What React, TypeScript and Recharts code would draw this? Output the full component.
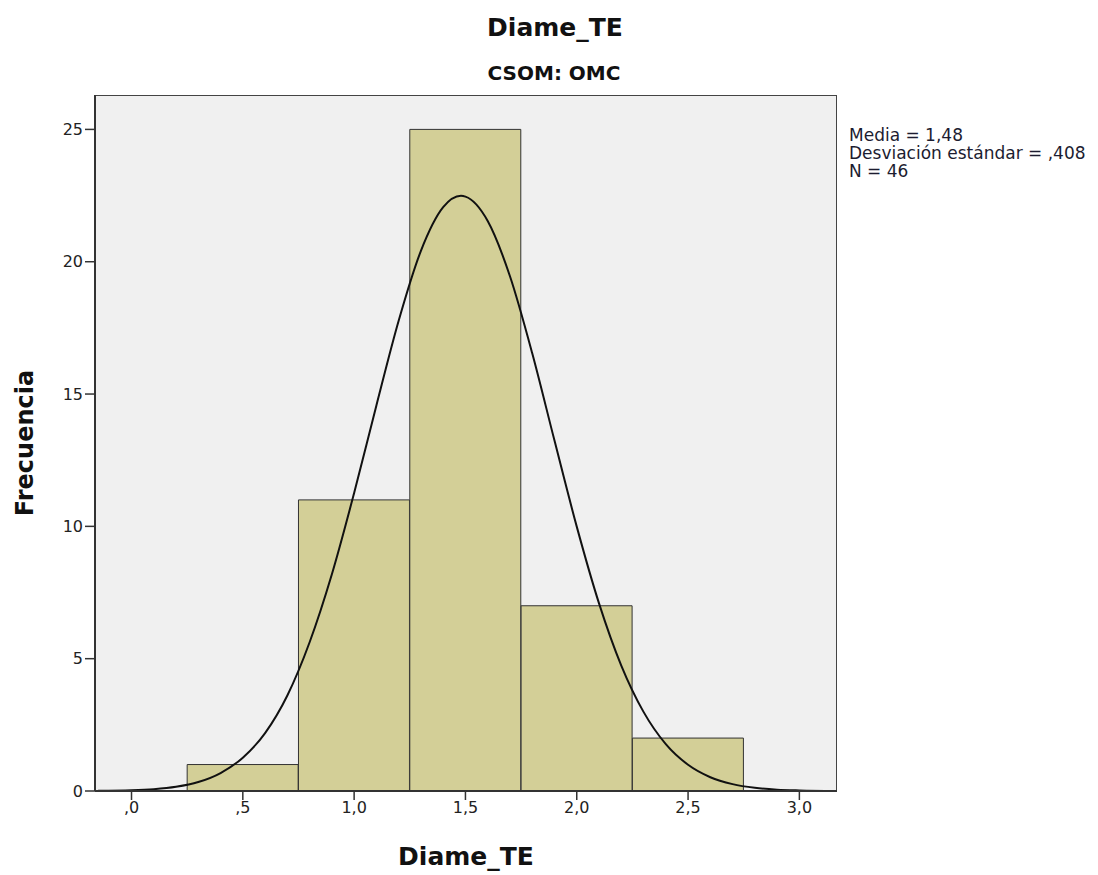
import React from "react";
import { ComposedChart, Bar, Line, XAxis, YAxis, CartesianGrid, ReferenceArea } from "recharts";

// histogram bins (centre, count)
const binCenters = [0.5, 1.0, 1.5, 2.0, 2.5];
const binCounts = [1, 11, 25, 7, 2];

// fitted normal curve
const curveX = [
  -0.15, 0.0, 0.1, 0.2, 0.3, 0.4, 0.5, 0.6, 0.7, 0.8, 0.9, 1.0, 1.1, 1.2, 1.3, 1.4, 1.48,
  1.5, 1.6, 1.7, 1.8, 1.9, 2.0, 2.1, 2.2, 2.3, 2.4, 2.5, 2.6, 2.7, 2.8, 2.9, 3.0, 3.17,
];
const curveY = [
  0.01, 0.03, 0.07, 0.16, 0.34, 0.68, 1.26, 2.19, 3.61, 5.62, 8.19, 11.26, 14.57, 17.77, 20.41, 22.06, 22.49,
  22.46, 21.54, 19.45, 16.54, 13.24, 9.99, 7.09, 4.74, 2.99, 1.77, 0.99, 0.52, 0.26, 0.12, 0.05, 0.02, 0.0,
];

const xTicks = [0, 0.5, 1.0, 1.5, 2.0, 2.5, 3.0];
const yTicks = [0, 5, 10, 15, 20, 25];

const stats = ["Media = 1,48", "Desviación estándar = ,408", "N = 46"];

const X_MIN = -0.164;
const X_MAX = 3.169;
const Y_MAX = 26.3;

const bins = binCenters.map((x, i) => ({ x, count: binCounts[i] }));
const curve = curveX.map((x, i) => ({ x, curve: curveY[i] }));

const fmt = (v: number) => {
  const s = v.toFixed(1).replace(".", ",");
  return s.startsWith("0") ? s.slice(1) : s;
};

const font = "'DejaVu Sans', sans-serif";
const tickStyle = { fontSize: 16, fill: "#222", fontFamily: font };

export default function App() {
  return (
    <div style={{ position: "absolute", left: 0, top: 0, width: 1098, height: 875, background: "#fff", fontFamily: font }}>
      <div style={{ position: "absolute", left: 6, width: 1098, top: 13, textAlign: "center", fontSize: 25, fontWeight: "bold", color: "#111" }}>
        Diame_TE
      </div>
      <div style={{ position: "absolute", left: 5, width: 1098, top: 61, textAlign: "center", fontSize: 20, fontWeight: "bold", color: "#111" }}>
        CSOM: OMC
      </div>
      <div style={{ position: "absolute", left: 849, top: 126, fontSize: 17, lineHeight: "18px", color: "#1c1c30" }}>
        {stats.map((s) => (
          <div key={s}>{s}</div>
        ))}
      </div>
      <ComposedChart
        width={1098}
        height={875}
        data={bins}
        margin={{ top: 95, right: 261, bottom: 34, left: 15 }}
      >
        <CartesianGrid fill="#f0f0f0" horizontal={false} vertical={false} />
        <XAxis
          dataKey="x"
          type="number"
          domain={[X_MIN, X_MAX]}
          ticks={xTicks}
          tickFormatter={fmt}
          allowDataOverflow
          height={50}
          tickSize={9}
          tick={tickStyle}
          stroke="#333"
          axisLine={{ stroke: "#333", strokeWidth: 2 }}
          tickLine={{ stroke: "#333", strokeWidth: 1.5 }}
          label={{ value: "Diame_TE", position: "insideBottom", offset: -24, fontSize: 25, fontWeight: "bold", fill: "#111", fontFamily: font }}
        />
        <XAxis xAxisId="bins" dataKey="x" type="number" domain={[X_MIN, X_MAX]} allowDataOverflow hide />
        <YAxis
          type="number"
          domain={[0, Y_MAX]}
          ticks={yTicks}
          allowDataOverflow
          width={80}
          tickSize={10}
          tick={tickStyle}
          stroke="#333"
          axisLine={{ stroke: "#333", strokeWidth: 2 }}
          tickLine={{ stroke: "#333", strokeWidth: 1.5 }}
          label={{ value: "Frecuencia", angle: -90, position: "insideLeft", offset: 9, textAnchor: "middle", fontSize: 24, fontWeight: "bold", fill: "#111", fontFamily: font }}
        />
        <Bar xAxisId="bins" dataKey="count" barSize={111} fill="#d3cf97" stroke="#333" strokeWidth={1} isAnimationActive={false} />
        <Line data={curve} dataKey="curve" type="monotone" dot={false} stroke="#111" strokeWidth={2} isAnimationActive={false} />
        <ReferenceArea x1={X_MIN} x2={X_MAX} y1={0} y2={Y_MAX} fill="none" stroke="#444" strokeWidth={2} ifOverflow="hidden" />
      </ComposedChart>
    </div>
  );
}
